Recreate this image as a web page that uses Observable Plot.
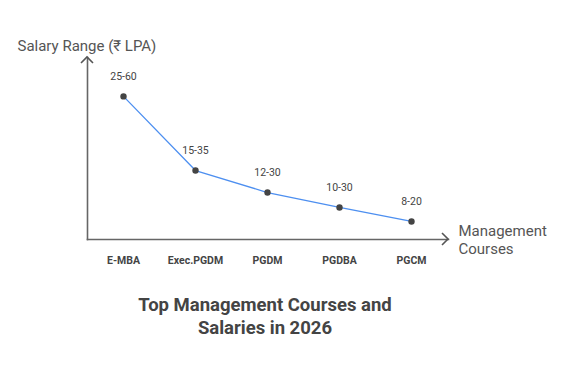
<!DOCTYPE html>
<html>
<head>
<meta charset="utf-8">
<script src="https://cdn.jsdelivr.net/npm/d3@7"></script>
<script src="https://cdn.jsdelivr.net/npm/@observablehq/plot@0.6"></script>
<style>
  body { margin: 0; background: #fff; font-family: Roboto, "Noto Sans", sans-serif; }
  #title { width: 530px; text-align: center; font-size: 18.5px; font-weight: bold; color: #444; line-height: 23px; margin-top: 14px; }
</style>
</head>
<body>
<div id="chart"></div>
<div id="title">Top Management Courses and<br>Salaries in 2026</div>
<script>
const courses = ["E-MBA", "Exec.PGDM", "PGDM", "PGDBA", "PGCM"];
const ranges = ["25-60", "15-35", "12-30", "10-30", "8-20"];
const levels = [50, 24.1, 16.4, 11.2, 6.3];
const yLabel = "Salary Range (₹ LPA)";
const xLabel = "Management\nCourses";

const data = courses.map((c, i) => ({course: c, range: ranges[i], level: levels[i]}));

const W = 569, H = 280;
const mL = 87, mR = 121, mT = 57, mB = 41;

const plot = Plot.plot({
  width: W, height: H,
  marginLeft: mL, marginRight: mR, marginTop: mT, marginBottom: mB,
  style: {fontFamily: "Roboto, 'Noto Sans', sans-serif", background: "#fff"},
  x: {type: "point", domain: courses, range: [122, 411], padding: 0},
  y: {domain: [0, 63.6]},
  marks: [
    Plot.frame({anchor: "left", stroke: "#666", strokeWidth: 1.6}),
    Plot.frame({anchor: "bottom", stroke: "#666", strokeWidth: 1.6}),
    Plot.axisX({tickSize: 0, tickPadding: 17, fontSize: 10.5, fontWeight: "bold", fill: "#444", label: null}),
    Plot.axisY({ticks: [], label: null}),
    Plot.line(data, {x: "course", y: "level", stroke: "#4d8ff0", strokeWidth: 1.3}),
    Plot.dot(data, {x: "course", y: "level", r: 3.2, fill: "#444", stroke: "none"}),
    Plot.text(data, {x: "course", y: "level", text: "range", dy: -20, fontSize: 10.5, fill: "#444"}),
    Plot.text([yLabel], {frameAnchor: "top-left", dx: -70, dy: -17, textAnchor: "start", fontSize: 15, fill: "#555"}),
    Plot.text([xLabel], {frameAnchor: "bottom-right", dx: 10, dy: 14, textAnchor: "start", fontSize: 15, fill: "#555", lineHeight: 1.2})
  ]
});

const svg = d3.select(plot);
// arrowheads at the ends of the axes
svg.append("path")
  .attr("d", `M${mL - 6},${mT + 6}L${mL},${mT}L${mL + 6},${mT + 6}`)
  .attr("fill", "none").attr("stroke", "#555").attr("stroke-width", 1.6);
const xe = W - mR;
const yb = H - mB;
svg.append("path")
  .attr("d", `M${xe - 6},${yb - 6}L${xe},${yb}L${xe - 6},${yb + 6}`)
  .attr("fill", "none").attr("stroke", "#555").attr("stroke-width", 1.6);

document.getElementById("chart").appendChild(plot);
</script>
</body>
</html>
